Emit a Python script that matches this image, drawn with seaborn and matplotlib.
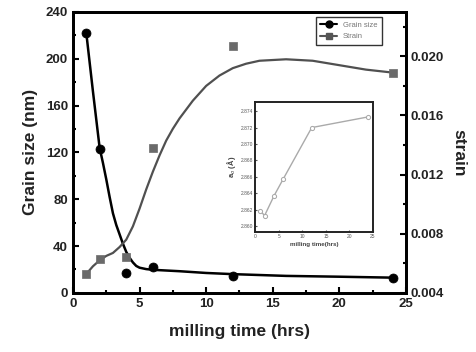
import matplotlib
matplotlib.use("Agg")
import matplotlib.pyplot as plt
from matplotlib.lines import Line2D
from matplotlib.ticker import MultipleLocator
import seaborn as sns

# measured data
time_pts = [1, 2, 4, 6, 12, 24]
grain_size = [222, 123, 17, 22, 14, 13]
strain = [0.00528, 0.00629, 0.00642, 0.0138, 0.0207, 0.0189]

# fitted curves
grain_fit_x = [1, 1.25, 1.5, 1.75, 2, 2.25, 2.5, 2.75, 3, 3.25, 3.5, 3.75, 4, 4.25,
               4.5, 4.75, 5, 5.5, 6, 8, 10, 12, 16, 20, 24]
grain_fit_y = [222, 197, 172, 148, 124, 111, 97, 82, 68, 58, 50, 42, 35, 30,
               26, 23, 21.5, 20.3, 19.7, 18.5, 17, 16, 14.5, 13.8, 13]
strain_fit_x = [1, 1.5, 2, 2.5, 3, 3.5, 4, 4.5, 5, 5.5, 6, 6.5, 7, 7.5, 8, 9, 10, 11,
                12, 13, 14, 16, 18, 20, 22, 24]
strain_fit_y = [0.00528, 0.0058, 0.0062, 0.0065, 0.0067, 0.0071, 0.0076, 0.0085, 0.0097,
                0.0110, 0.0122, 0.0133, 0.0143, 0.0151, 0.0158, 0.0170, 0.0180, 0.0187,
                0.0192, 0.0195, 0.0197, 0.0198, 0.0197, 0.0194, 0.0191, 0.0189]

# inset: lattice parameter
inset_t = [1, 2, 4, 6, 12, 24]
inset_a = [2.8619, 2.8613, 2.8637, 2.8658, 2.8720, 2.8733]

sns.set_style("ticks")
plt.rcParams['font.family'] = ['Liberation Sans', 'DejaVu Sans']

fig = plt.figure(figsize=(4.77, 3.52), dpi=100)
ax = fig.add_axes([0.153, 0.168, 0.698, 0.798])
ax2 = ax.twinx()

sns.lineplot(x=grain_fit_x, y=grain_fit_y, ax=ax, color="black", lw=1.8)
sns.scatterplot(x=time_pts, y=grain_size, ax=ax, color="black", marker="o", s=42,
                edgecolor="black", zorder=5)
sns.lineplot(x=strain_fit_x, y=strain_fit_y, ax=ax2, color="#505050", lw=1.6)
sns.scatterplot(x=time_pts, y=strain, ax=ax2, color="#6a6a6a", marker="s", s=38,
                edgecolor="#6a6a6a", zorder=5)

ax.set_xlim(0, 25)
ax.set_ylim(0, 240)
ax2.set_ylim(0.004, 0.023)
ax.xaxis.set_major_locator(MultipleLocator(5))
ax.xaxis.set_minor_locator(MultipleLocator(2.5))
ax.yaxis.set_major_locator(MultipleLocator(40))
ax.yaxis.set_minor_locator(MultipleLocator(20))
ax2.yaxis.set_minor_locator(MultipleLocator(0.002))
ax2.set_yticks([0.004, 0.008, 0.012, 0.016, 0.020])
ax2.set_yticklabels(["0.004", "0.008", "0.012", "0.016", "0.020"])

for a in (ax, ax2):
    a.tick_params(which="both", direction="in", width=1.5, labelsize=9.5, colors="black")
    a.tick_params(which="major", length=4)
    a.tick_params(which="minor", length=2.5)
    for lab in a.get_xticklabels() + a.get_yticklabels():
        lab.set_fontweight("bold")
        lab.set_color("#222222")
    for sp in a.spines.values():
        sp.set_linewidth(2)
        sp.set_color("black")

ax.set_xlabel("milling time (hrs)", fontsize=12.5, fontweight="bold", labelpad=10, color="#222222")
ax.set_ylabel("Grain size (nm)", fontsize=12.5, fontweight="bold", labelpad=6, color="#222222")
ax2.set_ylabel("strain", fontsize=12.5, fontweight="bold", rotation=270, labelpad=16, color="#222222")

handles = [Line2D([], [], color="black", marker="o", markersize=5, lw=1.5),
           Line2D([], [], color="#555555", marker="s", markersize=5, lw=1.5)]
leg = ax2.legend(handles, ["Grain size", "Strain"], loc="upper right",
                 bbox_to_anchor=(0.94, 0.995), fontsize=5.5, frameon=True, fancybox=False,
                 handlelength=2.2, borderpad=0.6, labelspacing=0.5, edgecolor="black")
leg.get_frame().set_linewidth(1.0)
for t in leg.get_texts():
    t.set_color("#777777")

# inset
axi = fig.add_axes([0.535, 0.341, 0.247, 0.369])
sns.lineplot(x=inset_t, y=inset_a, ax=axi, color="#aaaaaa", lw=1.0, marker="o",
             markersize=3, markerfacecolor="white", markeredgecolor="#aaaaaa")
axi.set_xlim(0, 25)
axi.set_ylim(2.8593, 2.8751)
axi.xaxis.set_major_locator(MultipleLocator(5))
axi.set_yticks([2.860, 2.862, 2.864, 2.866, 2.868, 2.870, 2.872, 2.874])
axi.tick_params(which="both", direction="in", length=1.5, width=0.8, labelsize=3.5,
                pad=1.5, colors="#555555")
for sp in axi.spines.values():
    sp.set_linewidth(1.4)
    sp.set_color("#222222")
axi.set_xlabel("milling time(hrs)", fontsize=4.5, fontweight="bold", labelpad=2, color="#444444")
axi.set_ylabel("a$_o$ (Å)", fontsize=5.5, fontweight="bold", labelpad=2, color="#444444")

fig.savefig("out.png", dpi=100)
